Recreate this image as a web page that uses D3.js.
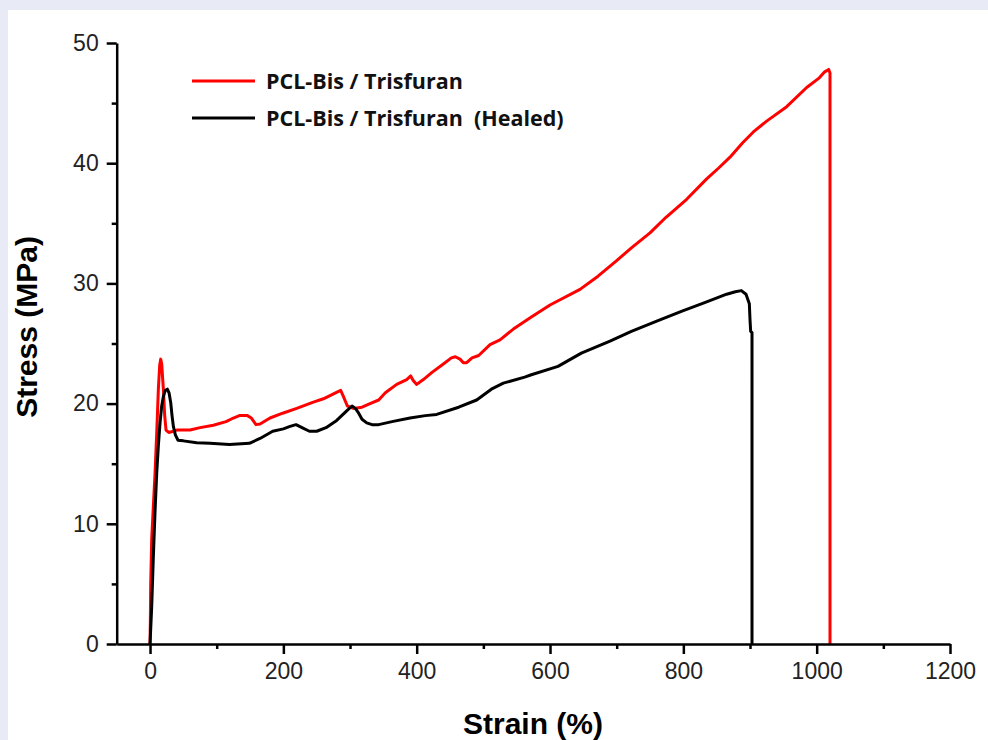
<!DOCTYPE html>
<html>
<head>
<meta charset="utf-8">
<script src="https://cdn.jsdelivr.net/npm/d3@7"></script>
<style>
  html, body { margin: 0; padding: 0; background: #e8ebf6; }
  svg { display: block; }
  .tick text { font-family: "Liberation Sans", Arial, sans-serif; font-size: 23px; fill: #222; }
  .axis path, .axis line { stroke: #000; stroke-width: 2.5; }
</style>
</head>
<body>
<svg id="chart" width="988" height="740"></svg>
<script>
// tensile curves
const strainOriginal = [0, 0.5, 1, 2.5, 5, 7.5, 10, 12.5, 14.5, 16, 17.5, 20, 22, 24, 28, 35, 40, 60, 75, 95, 114, 125, 134, 146, 152, 159, 165, 180, 199, 220, 244, 260, 273, 282, 286, 290, 296, 305, 318, 330, 343, 353, 370, 385, 391, 395, 400, 410, 423, 440, 452, 458, 465, 470, 475, 483, 493, 510, 525, 545, 572, 600, 645, 672, 700, 723, 750, 774, 805, 835, 853, 870, 889, 905, 925, 955, 985, 1004, 1012, 1018, 1020, 1020];
const stressOriginal = [0, 2, 5, 8.7, 11.5, 14.2, 17.5, 21.2, 23.2, 23.7, 23.3, 21.2, 19, 17.8, 17.6, 17.7, 17.8, 17.8, 18.0, 18.2, 18.5, 18.8, 19.0, 19.0, 18.8, 18.25, 18.3, 18.8, 19.2, 19.6, 20.1, 20.4, 20.75, 21.0, 21.1, 20.6, 19.8, 19.6, 19.7, 20.0, 20.3, 20.9, 21.6, 22.0, 22.3, 21.9, 21.6, 22.0, 22.6, 23.3, 23.8, 23.9, 23.7, 23.4, 23.4, 23.8, 24.0, 24.9, 25.3, 26.2, 27.2, 28.2, 29.5, 30.6, 31.9, 33.0, 34.2, 35.5, 37.0, 38.7, 39.6, 40.5, 41.7, 42.6, 43.5, 44.7, 46.3, 47.1, 47.6, 47.8, 47.5, 0];

const strainHealed = [0, 2.5, 5, 7.5, 10, 12.5, 15, 17.5, 20, 23, 26, 28.5, 31, 33, 35, 38, 42, 50, 70, 90, 119, 149, 165, 184, 200, 210, 219, 228, 239, 250, 264, 280, 295, 303, 308, 313, 318, 325, 333, 343, 363, 390, 413, 430, 463, 490, 512, 530, 562, 572, 612, 647, 690, 722, 762, 798, 832, 865, 878, 887, 894, 899, 900, 901, 903, 903];
const stressHealed = [0, 3.1, 7.3, 11, 14.2, 16.5, 18.4, 19.8, 20.6, 21.1, 21.2, 20.9, 20.1, 19, 18.1, 17.4, 16.95, 16.9, 16.75, 16.7, 16.6, 16.7, 17.1, 17.7, 17.9, 18.1, 18.25, 18.0, 17.7, 17.7, 18.0, 18.6, 19.4, 19.8, 19.6, 19.2, 18.7, 18.4, 18.25, 18.25, 18.5, 18.8, 19.0, 19.1, 19.7, 20.3, 21.2, 21.7, 22.2, 22.4, 23.1, 24.2, 25.2, 26.0, 26.9, 27.7, 28.4, 29.1, 29.3, 29.4, 29.1, 28.3, 27, 26, 25.9, 0];

const seriesNames = ["PCL-Bis / Trisfuran", "PCL-Bis / Trisfuran  (Healed)"];
const seriesColors = ["#ff0000", "#000000"];

const xMajorTicks = [0, 200, 400, 600, 800, 1000, 1200];
const xMinorTicks = [100, 300, 500, 700, 900, 1100];
const yMajorTicks = [0, 10, 20, 30, 40, 50];
const yMinorTicks = [5, 15, 25, 35, 45];

const svg = d3.select("#chart");

// white panel inside the light frame
svg.append("rect").attr("x", 8).attr("y", 10).attr("width", 980).attr("height", 730).attr("fill", "#fff");

const x = d3.scaleLinear().domain([-50, 1200]).range([116.7, 950]);
const y = d3.scaleLinear().domain([0, 50]).range([644, 43]);

const series = [
  { name: seriesNames[0], color: seriesColors[0], pts: strainOriginal.map((s, i) => [s, stressOriginal[i]]) },
  { name: seriesNames[1], color: seriesColors[1], pts: strainHealed.map((s, i) => [s, stressHealed[i]]) }
];

const line = d3.line().x(d => x(d[0])).y(d => y(d[1]));

svg.append("g").selectAll("path").data(series).join("path")
  .attr("d", d => line(d.pts))
  .attr("fill", "none")
  .attr("stroke", d => d.color)
  .attr("stroke-width", 3)
  .attr("stroke-linejoin", "round");

// axes
svg.append("g").attr("class", "axis").attr("transform", `translate(0,${y(0)})`)
  .call(d3.axisBottom(x).tickValues(xMajorTicks).tickSize(10).tickSizeOuter(0).tickPadding(9).tickFormat(d3.format("d")));
svg.append("g").attr("class", "axis").attr("transform", `translate(0,${y(0)})`)
  .call(d3.axisBottom(x).tickValues(xMinorTicks).tickSize(5).tickSizeOuter(0).tickFormat(""))
  .select(".domain").remove();

svg.append("g").attr("class", "axis").attr("transform", `translate(${x(-50)},0)`)
  .call(d3.axisLeft(y).tickValues(yMajorTicks).tickSize(10).tickSizeOuter(0).tickPadding(8));
svg.append("g").attr("class", "axis").attr("transform", `translate(${x(-50)},0)`)
  .call(d3.axisLeft(y).tickValues(yMinorTicks).tickSize(5).tickSizeOuter(0).tickFormat(""))
  .select(".domain").remove();

// axis titles
svg.append("text")
  .attr("x", 533).attr("y", 734)
  .attr("text-anchor", "middle")
  .style("font-family", "Liberation Sans, Arial, sans-serif")
  .style("font-weight", "bold").style("font-size", "30px")
  .text("Strain (%)");

svg.append("text")
  .attr("transform", "translate(37,327) rotate(-90)")
  .attr("text-anchor", "middle")
  .style("font-family", "Liberation Sans, Arial, sans-serif")
  .style("font-weight", "bold").style("font-size", "30px")
  .text("Stress (MPa)");

// legend
const legend = svg.append("g").selectAll("g").data(series).join("g")
  .attr("transform", (d, i) => `translate(192,${81 + i * 37})`);
legend.append("line").attr("x1", 0).attr("x2", 63).attr("y1", 0).attr("y2", 0)
  .attr("stroke", d => d.color).attr("stroke-width", 3);
legend.append("text").attr("x", 74).attr("y", 7.5)
  .style("font-family", "Open Sans, sans-serif")
  .style("font-weight", "bold").style("font-size", "21.5px").style("fill", "#111")
  .style("white-space", "pre")
  .text(d => d.name);
</script>
</body>
</html>
